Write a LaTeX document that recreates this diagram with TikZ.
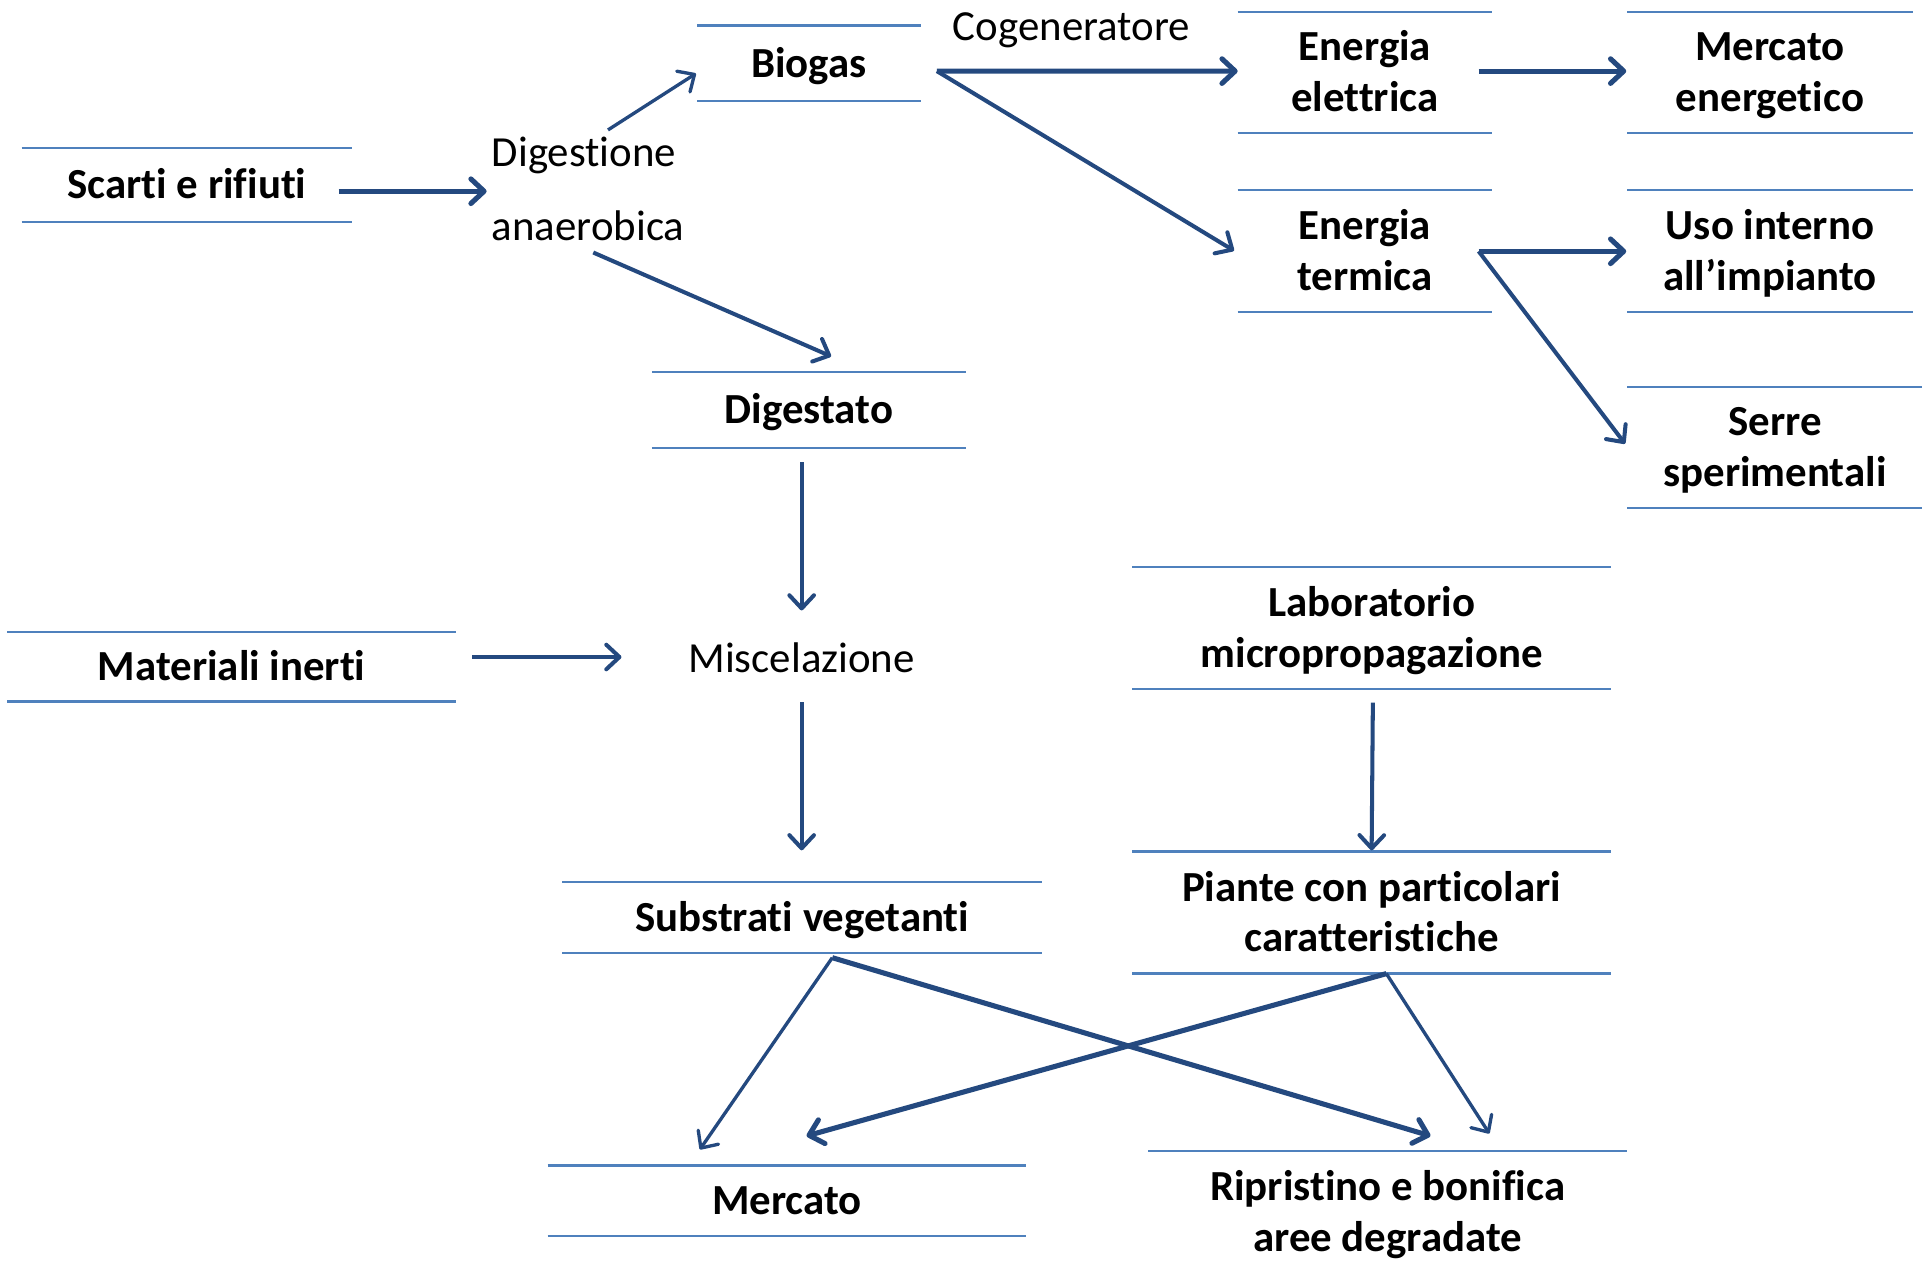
\documentclass[tikz,border=0pt]{standalone}
\usepackage{fontspec}
\setmainfont{Carlito}[Ligatures=NoCommon]
\usetikzlibrary{arrows.meta,calc}
\definecolor{rulecol}{HTML}{4F81BD}
\definecolor{arrowcol}{HTML}{24497F}
\newcommand{\pxl}{0.02452cm}
% struts that fix the height of the first line and the depth of the last one
\newcommand{\topst}{\rule{0pt}{24.5pt}}
\newcommand{\botst}{\rule[-8.7pt]{0pt}{0pt}}

\begin{document}
\begin{tikzpicture}[x=0.02452cm, y=-0.02452cm,
  box/.style={inner sep=0pt, align=center, font=\fontsize{24.4}{29}\selectfont\bfseries},
  lbl/.style={inner sep=0pt, align=left, font=\fontsize{24.4}{29}\selectfont},
  rule/.style={draw=rulecol, line width=1.3pt},
  flow/.style={draw=arrowcol, line width=2.9pt, -{Straight Barb[length=7.5pt,width=14pt,round]}},
  flowmid/.style={flow, line width=2.3pt},
  flowthin/.style={flow, line width=1.9pt}]

\useasboundingbox (0,0) rectangle (1568,1037);

% boxes: text between two horizontal rules
\node[box, minimum width={269*\pxl}, minimum height={60*\pxl}] (scarti) at (152.5,151) {\topst Scarti e rifiuti\botst};
\node[box, minimum width={182*\pxl}, minimum height={61*\pxl}] (biogas) at (660,51.5) {\topst Biogas\botst};
\node[box, minimum width={207*\pxl}, minimum height={98*\pxl}] (eel) at (1113.5,59) {\topst Energia\\elettrica\botst};
\node[box, minimum width={232*\pxl}, minimum height={98*\pxl}] (menerg) at (1444,59) {\topst Mercato\\energetico\botst};
\node[box, minimum width={207*\pxl}, minimum height={99*\pxl}] (eterm) at (1113.5,204.5) {\topst Energia\\termica\botst};
\node[box, minimum width={232*\pxl}, minimum height={99*\pxl}] (uso) at (1444,204.5) {\topst Uso interno\\all’impianto\botst};
\node[box, minimum width={240*\pxl}, minimum height={98*\pxl}] (serre) at (1448,365) {\topst Serre\\sperimentali\botst};
\node[box, minimum width={256*\pxl}, minimum height={61*\pxl}] (digestato) at (660,334.5) {\topst Digestato\botst};
\node[box, minimum width={366*\pxl}, minimum height={56*\pxl}] (inerti) at (189,544) {\topst Materiali inerti\botst};
\node[box, minimum width={390*\pxl}, minimum height={99*\pxl}] (lab) at (1119,512.5) {\topst Laboratorio\\micropropagazione\botst};
\node[box, minimum width={390*\pxl}, minimum height={99*\pxl}] (piante) at (1119,744.5) {\topst Piante con particolari\\caratteristiche\botst};
\node[box, minimum width={391*\pxl}, minimum height={57*\pxl}] (substr) at (654.5,748.5) {\topst Substrati vegetanti\botst};
\node[box, minimum width={390*\pxl}, minimum height={57*\pxl}] (mercato) at (642,979.5) {\topst Mercato\botst};
\node[box, minimum width={390*\pxl}, minimum height={99*\pxl}] (ripr) at (1132,988.5) {\topst Ripristino e bonifica\\aree degradate\botst};

\foreach \nm in {scarti,biogas,eel,menerg,eterm,uso,serre,digestato,inerti,lab,piante,substr,mercato}
  \draw[rule] (\nm.north west) -- (\nm.north east) (\nm.south west) -- (\nm.south east);
\draw[rule] (ripr.north west) -- (ripr.north east);

% plain process labels
\node[lbl, font=\fontsize{24.4}{42}\selectfont, anchor=west] (dig) at (401,154) {Digestione\\anaerobica};
\node[lbl] (cog) at (874,25) {Cogeneratore};
\node[lbl] (misc) at (654,537) {Miscelazione};

% flows
\draw[flow] ($(scarti.east)+(-11,5)$) -- ($(dig.west)+(-4,2)$);
\draw[flowthin] ($(dig.west)+(95,-48)$) -- ($(biogas.west)+(-1,8.5)$);
\draw[flowmid] ($(dig.west)+(83,52)$) -- ($(digestato.north)+(18,-13)$);
\draw[flow] ($(biogas.east)+(13,6.5)$) -- ($(eel.west)+(0,-1)$);
\draw[flowmid] ($(biogas.east)+(13,6.5)$) -- ($(eterm.west)+(-3,0)$);
\draw[flow] ($(eel.east)+(-11,-1)$) -- ($(menerg.west)+(-1,-1)$);
\draw[flow] ($(eterm.east)+(-11,0.5)$) -- ($(uso.west)+(-1,0.5)$);
\draw[flowmid] ($(eterm.east)+(-11,0.5)$) -- ($(serre.west)+(-2,-3)$);
\draw[flowmid] ($(digestato.south)+(-6,12)$) -- ($(misc.center)+(0,-39)$);
\draw[flowmid] ($(inerti.east)+(13,-8)$) -- ($(misc.center)+(-147,-1)$);
\draw[flowmid] ($(misc.center)+(0,36)$) -- ($(substr.north)+(-0.5,-26)$);
\draw[flowmid] ($(lab.south)+(1,11)$) -- ($(piante.north)+(0,-1)$);
\draw[flowthin] ($(substr.south)+(24.5,4)$) -- ($(mercato.north)+(-71,-13)$);
\draw[flow] ($(substr.south)+(24.5,4)$) -- ($(ripr.north)+(35,-12)$);
\draw[flow] ($(piante.south)+(12,0)$) -- ($(mercato.north)+(16,-24)$);
\draw[flowthin] ($(piante.south)+(12,0)$) -- ($(ripr.north)+(83,-14)$);
\end{tikzpicture}
\end{document}
